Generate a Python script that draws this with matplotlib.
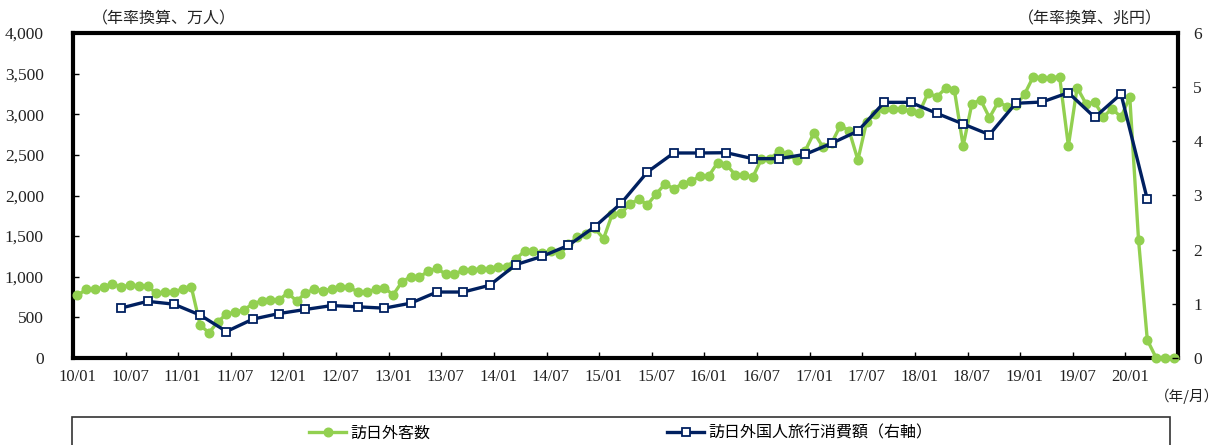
import matplotlib
matplotlib.use("Agg")
import matplotlib.pyplot as plt
from matplotlib.patches import Rectangle
from matplotlib.ticker import FixedLocator, NullFormatter, FixedFormatter

# 訪日外客数（年率換算、万人）: monthly, 2010/01 - 2020/06
visitors = [
    770, 845, 845, 870, 915, 870, 900, 885, 885, 795, 810, 812,        # 2010
    850, 870, 405, 310, 443, 541, 562, 595, 665, 702, 714, 714,        # 2011
    804, 698, 800, 845, 829, 845, 870, 870, 812, 812, 845, 866,        # 2012
    776, 935, 1001, 997, 1067, 1104, 1030, 1030, 1083, 1083, 1100, 1100,  # 2013
    1120, 1124, 1218, 1318, 1320, 1290, 1320, 1280, 1400, 1485, 1530, 1595,  # 2014
    1469, 1773, 1781, 1896, 1953, 1888, 2019, 2142, 2084, 2142, 2175, 2241,  # 2015
    2241, 2404, 2380, 2257, 2257, 2224, 2445, 2454, 2544, 2511, 2437, 2552,  # 2016
    2774, 2598, 2645, 2860, 2798, 2437, 2910, 3008, 3069, 3061, 3061, 3040,  # 2017
    3020, 3262, 3213, 3320, 3299, 2610, 3131, 3176, 2958, 3151, 3094, 3110,  # 2018
    3246, 3463, 3447, 3447, 3463, 2610, 3328, 3131, 3147, 2971, 3070, 2963,  # 2019
    3213, 1453, 222, 3, 2, 3,                                          # 2020
]

# 訪日外国人旅行消費額（年率換算、兆円）: quarterly, 2010Q2 - 2020Q1,
# plotted at the last month of each quarter
spending = [
    0.923, 1.046, 0.994,                 # 2010 Q2-Q4
    0.792, 0.489, 0.717, 0.821,          # 2011
    0.896, 0.968, 0.945, 0.920,          # 2012
    1.012, 1.218, 1.218, 1.342,          # 2013
    1.723, 1.877, 2.080, 2.424,          # 2014
    2.856, 3.434, 3.785, 3.785,          # 2015
    3.790, 3.680, 3.680, 3.760,          # 2016
    3.963, 4.190, 4.720, 4.720,          # 2017
    4.517, 4.320, 4.123, 4.702,          # 2018
    4.726, 4.898, 4.443, 4.874,          # 2019
    2.930,                               # 2020 Q1
]
spending_first_month = 5   # 2010/06
spending_step = 3

x_labels = ["10/01", "10/07", "11/01", "11/07", "12/01", "12/07", "13/01",
            "13/07", "14/01", "14/07", "15/01", "15/07", "16/01", "16/07",
            "17/01", "17/07", "18/01", "18/07", "19/01", "19/07", "20/01"]

left_ticks = [0, 500, 1000, 1500, 2000, 2500, 3000, 3500, 4000]
right_ticks = [0, 1, 2, 3, 4, 5, 6]

GREEN = "#92D050"
NAVY = "#002060"
TEXT = "#222222"
JP = ["Noto Sans CJK JP", "DejaVu Sans"]
NUM = ["Liberation Serif", "DejaVu Serif"]

W, H = 1221, 445
fig = plt.figure(figsize=(W / 100, H / 100), dpi=100)
ax = fig.add_axes([73 / W, 1 - 358 / H, (1178 - 73) / W, (358 - 33) / H])
ax2 = ax.twinx()

months = list(range(len(visitors)))
q_months = [spending_first_month + spending_step * k for k in range(len(spending))]

# frame drawn once, by the left axes; the green markers sit on top of it
for s in ax.spines.values():
    s.set_linewidth(3)
    s.set_color("black")
    s.set_zorder(2.5)
for s in ax2.spines.values():
    s.set_visible(False)

ax.plot(months, visitors, color=GREEN, lw=2.4, marker="o", ms=6.2,
        mfc=GREEN, mec=GREEN, label="訪日外客数", zorder=3, clip_on=False)
ax2.plot(q_months, spending, color=NAVY, lw=2.4, marker="s", ms=6.2,
         mfc="white", mec=NAVY, mew=1.3, label="訪日外国人旅行消費額（右軸）", zorder=4)

n_months = 126
ax.set_xlim(-0.5, n_months - 0.5)
ax.set_ylim(0, 4000)
ax2.set_ylim(0, 6)

# tick marks on the month boundaries, labels centred on the month
ax.xaxis.set_major_locator(FixedLocator([-0.5 + 6 * k for k in range(22)]))
ax.xaxis.set_major_formatter(NullFormatter())
ax.xaxis.set_minor_locator(FixedLocator([6 * k for k in range(len(x_labels))]))
ax.xaxis.set_minor_formatter(FixedFormatter(x_labels))
ax.tick_params(axis="x", which="major", direction="in", length=4, width=1)
ax.tick_params(axis="x", which="minor", length=0, pad=8, labelsize=12)

ax.set_yticks(left_ticks)
ax.set_yticklabels([f"{v:,}" for v in left_ticks])
ax.tick_params(axis="y", direction="in", length=4, width=1, labelsize=12.5, pad=21)

ax2.set_yticks(right_ticks)
ax2.tick_params(axis="y", direction="in", length=4, width=1, labelsize=12.5, pad=11)

for a in (ax, ax2):
    for lab in a.get_xticklabels(which="both") + a.get_yticklabels():
        lab.set_fontfamily(NUM)
        lab.set_color(TEXT)

fig.text(92 / W, 1 - 19 / H, "（年率換算、万人）", family=JP, fontsize=11.5,
         ha="left", va="center", color=TEXT)
fig.text(1162 / W, 1 - 19 / H, "（年率換算、兆円）", family=JP, fontsize=11.5,
         ha="right", va="center", color=TEXT)
fig.text(1219 / W, 1 - 396 / H, "（年/月）", family=JP, fontsize=10.5,
         ha="right", va="center", color=TEXT)

# legend frame
fig.patches.append(Rectangle((72 / W, -0.2), (1170 - 72) / W, 0.2 + (445 - 417) / H,
                             transform=fig.transFigure, fill=False,
                             edgecolor="#333333", lw=1.2))
h1, l1 = ax.get_legend_handles_labels()
h2, l2 = ax2.get_legend_handles_labels()
fig.legend(h1 + h2, l1 + l2, loc="center", bbox_to_anchor=(621 / W, 1 - 433 / H),
           ncol=2, frameon=False, prop={"family": JP, "size": 11.5},
           handlelength=2.3, handletextpad=0.3, columnspacing=14.8,
           borderpad=0)

fig.savefig("out.png", dpi=100)
